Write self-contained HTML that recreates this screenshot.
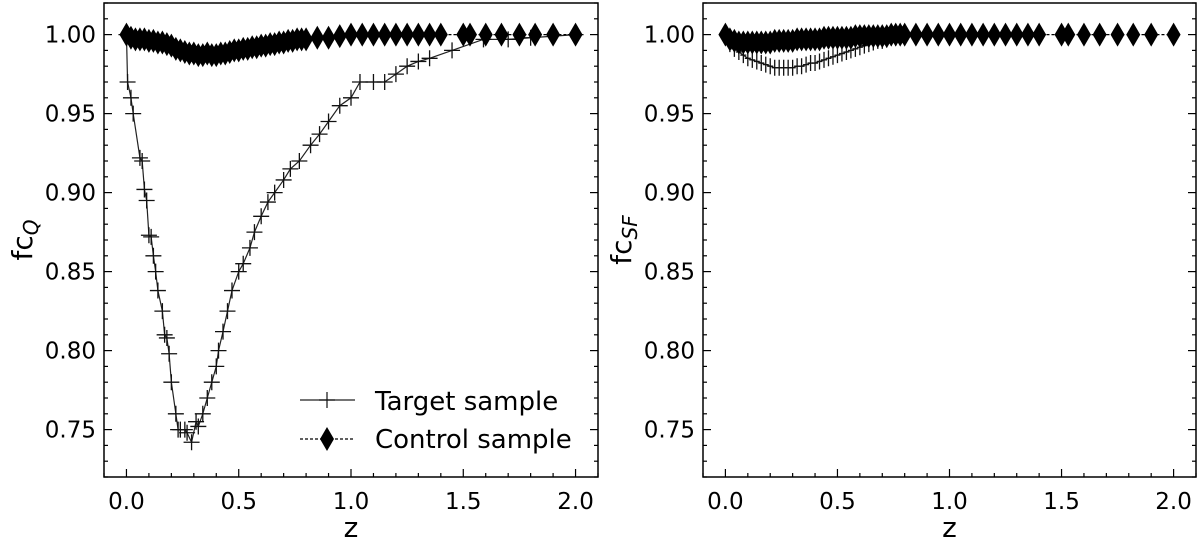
<!DOCTYPE html>
<html><head><meta charset="utf-8"><style>
html,body{margin:0;padding:0;background:#fff;}
svg{display:block;font-family:"DejaVu Sans","Liberation Sans",sans-serif;}
</style></head><body>
<svg id="chart" width="1200" height="545" viewBox="0 0 1200 545" xmlns="http://www.w3.org/2000/svg"></svg>
<script>
const xTicks=[0,0.5,1.0,1.5,2.0];
const xTickLabels=["0.0","0.5","1.0","1.5","2.0"];
const yTicks=[0.75,0.80,0.85,0.90,0.95,1.00];
const yTickLabels=["0.75","0.80","0.85","0.90","0.95","1.00"];
// Left panel: target sample (fc_Q)
const targetQZ=[0,0.005,0.02,0.03,0.06,0.07,0.08,0.09,0.1,0.11,0.12,0.13,0.14,0.16,0.17,0.18,0.19,0.2,0.22,0.23,0.24,0.26,0.27,0.29,0.31,0.32,0.34,0.36,0.38,0.4,0.41,0.43,0.45,0.47,0.5,0.52,0.55,0.57,0.6,0.63,0.66,0.7,0.73,0.77,0.82,0.86,0.9,0.95,1.0,1.04,1.1,1.15,1.2,1.25,1.3,1.35,1.45,1.59,1.7,1.8,2.0];
const targetQ=[1.0,0.97,0.96,0.95,0.922,0.92,0.902,0.895,0.873,0.872,0.86,0.85,0.838,0.825,0.81,0.808,0.798,0.78,0.76,0.75,0.75,0.75,0.748,0.742,0.755,0.752,0.76,0.77,0.78,0.79,0.8,0.812,0.825,0.838,0.85,0.855,0.865,0.875,0.885,0.894,0.9,0.908,0.915,0.92,0.93,0.937,0.945,0.955,0.96,0.97,0.97,0.97,0.975,0.98,0.983,0.985,0.99,0.997,0.997,0.998,1.0];
// Left panel: control sample
const controlZ=[0,0.02,0.04,0.06,0.08,0.1,0.12,0.14,0.16,0.18,0.2,0.22,0.24,0.26,0.28,0.3,0.32,0.34,0.36,0.38,0.4,0.42,0.44,0.46,0.48,0.5,0.52,0.54,0.56,0.58,0.6,0.62,0.64,0.66,0.68,0.7,0.72,0.74,0.76,0.78,0.8,0.85,0.9,0.95,1.0,1.05,1.1,1.15,1.2,1.25,1.3,1.35,1.4,1.5,1.53,1.6,1.67,1.75,1.82,1.9,2.0];
const controlQ=[1.0,0.998,0.997,0.997,0.997,0.996,0.996,0.995,0.995,0.994,0.993,0.991,0.99,0.989,0.988,0.988,0.987,0.987,0.988,0.987,0.987,0.988,0.988,0.989,0.99,0.99,0.991,0.991,0.992,0.992,0.993,0.993,0.994,0.994,0.995,0.995,0.996,0.996,0.997,0.997,0.997,0.998,0.998,0.999,1.0,1.0,1.0,1.0,1.0,1.0,1.0,1.0,1.0,1.0,1.0,1.0,1.0,1.0,1.0,1.0,1.0];
// Right panel: target sample (fc_SF)
const targetSFZ=[0,0.02,0.04,0.06,0.08,0.1,0.12,0.14,0.16,0.18,0.2,0.22,0.24,0.26,0.28,0.3,0.32,0.34,0.36,0.38,0.4,0.42,0.44,0.46,0.48,0.5,0.52,0.54,0.56,0.58,0.6,0.62,0.64,0.66,0.68,0.7,0.72,0.74,0.76,0.78,0.8];
const targetSF=[1.0,0.994,0.991,0.989,0.987,0.985,0.984,0.983,0.982,0.981,0.980,0.979,0.979,0.979,0.979,0.979,0.980,0.980,0.981,0.982,0.982,0.983,0.984,0.985,0.986,0.987,0.988,0.989,0.990,0.991,0.992,0.993,0.994,0.995,0.996,0.996,0.997,0.998,0.998,0.999,1.0];
const controlSFZ=controlZ;
const controlSF=[1.0,0.997,0.996,0.995,0.995,0.995,0.995,0.995,0.995,0.995,0.995,0.996,0.996,0.996,0.996,0.996,0.997,0.997,0.997,0.997,0.997,0.997,0.998,0.998,0.998,0.998,0.998,0.998,0.998,0.999,0.999,0.999,0.999,0.999,0.999,0.999,0.999,1.0,1.0,1.0,1.0,1.0,1.0,1.0,1.0,1.0,1.0,1.0,1.0,1.0,1.0,1.0,1.0,1.0,1.0,1.0,1.0,1.0,1.0,1.0,1.0];

const NS="http://www.w3.org/2000/svg";
const svg=document.getElementById('chart');
function mk(tag,attrs,parent){const e=document.createElementNS(NS,tag);for(const k in attrs)e.setAttribute(k,attrs[k]);(parent||svg).appendChild(e);return e;}
const X0=-0.1,X1=2.1,Y0=0.72,Y1=1.02,TOP=3,BOT=477;
function panel(left,right,sub,tz,tv,cz,cv,errSize,name){
  const g=mk('g',{});
  
  
  const sx=v=>left+(v-X0)/(X1-X0)*(right-left);
  const sy=v=>BOT-(v-Y0)/(Y1-Y0)*(BOT-TOP);
  for(let i=-1;i<=21;i++){const v=i/10;if(v<X0||v>X1)continue;const maj=(i%5===0);
    const t=mk('line',{x1:sx(v),x2:sx(v),y1:BOT,y2:BOT-(maj?8:4),stroke:'#000','stroke-width':1.2},g);
    }
  for(let i=72;i<=102;i++){const v=i/100;const maj=(i%5===0);const L=maj?8:4;
    mk('line',{x1:left,x2:left+L,y1:sy(v),y2:sy(v),stroke:'#000','stroke-width':1.2},g);
    mk('line',{x1:right,x2:right-L,y1:sy(v),y2:sy(v),stroke:'#000','stroke-width':1.2},g);}
  xTicks.forEach((v,i)=>{const t=mk('text',{x:sx(v),y:BOT+32,'font-size':23,'text-anchor':'middle'},g);t.textContent=xTickLabels[i];
    });
  yTicks.forEach((v,i)=>{const t=mk('text',{x:left-8,y:sy(v)+8,'font-size':23,'text-anchor':'end'},g);t.textContent=yTickLabels[i];
    });
  const tp=tz.map((z,i)=>sx(z)+','+sy(tv[i])).join(' ');
  const tl=mk('polyline',{points:tp,fill:'none',stroke:'#222','stroke-width':1.2},g);
  
  tz.forEach((z,i)=>{const x=sx(z),y=sy(tv[i]);
    const m=mk('path',{d:`M${x-errSize[0]},${y}H${x+errSize[0]}M${x},${y-errSize[1]}V${y+errSize[1]}`,stroke:'#111','stroke-width':1.3},g);
    });
  const cp=cz.map((z,i)=>sx(z)+','+sy(cv[i])).join(' ');
  const cl=mk('polyline',{points:cp,fill:'none',stroke:'#000','stroke-width':1.2,'stroke-dasharray':'3,2'},g);
  
  cz.forEach((z,i)=>{const x=sx(z),y=sy(cv[i]);
    const d=mk('path',{d:`M${x},${y-12}L${x+7},${y}L${x},${y+12}L${x-7},${y}Z`,fill:'#000'},g);
    });
  const f=mk('rect',{x:left,y:TOP,width:right-left,height:BOT-TOP,fill:'none',stroke:'#000','stroke-width':1.5},g);
  
  const xl=mk('text',{x:(left+right)/2,y:537,'font-size':28,'text-anchor':'middle'},g);xl.textContent='z';
  
  const yl=mk('text',{transform:`translate(${left-72},${(TOP+BOT)/2}) rotate(-90)`,'font-size':28,'text-anchor':'middle'},g);
  yl.innerHTML=`fc<tspan font-size="20" font-style="italic" dy="6">${sub}</tspan>`;
  
}
panel(104,598,'Q',targetQZ,targetQ,controlZ,controlQ,[8,8],'left-panel');
panel(703,1196,'SF',targetSFZ,targetSF,controlSFZ,controlSF,[3,8],'right-panel');
const lg=mk('g',{});


mk('line',{x1:300,x2:355,y1:400,y2:400,stroke:'#222','stroke-width':1.2},lg);
mk('path',{d:'M319,400H335M327,392V408',stroke:'#111','stroke-width':1.2},lg);
const t1=mk('text',{x:375,y:410,'font-size':26},lg);t1.textContent='Target sample';

mk('line',{x1:300,x2:355,y1:439,y2:439,stroke:'#000','stroke-width':1.2,'stroke-dasharray':'3,2'},lg);
mk('path',{d:'M327,427L334,439L327,451L320,439Z',fill:'#000'},lg);
const t2=mk('text',{x:375,y:448,'font-size':26},lg);t2.textContent='Control sample';

</script>
</body></html>
